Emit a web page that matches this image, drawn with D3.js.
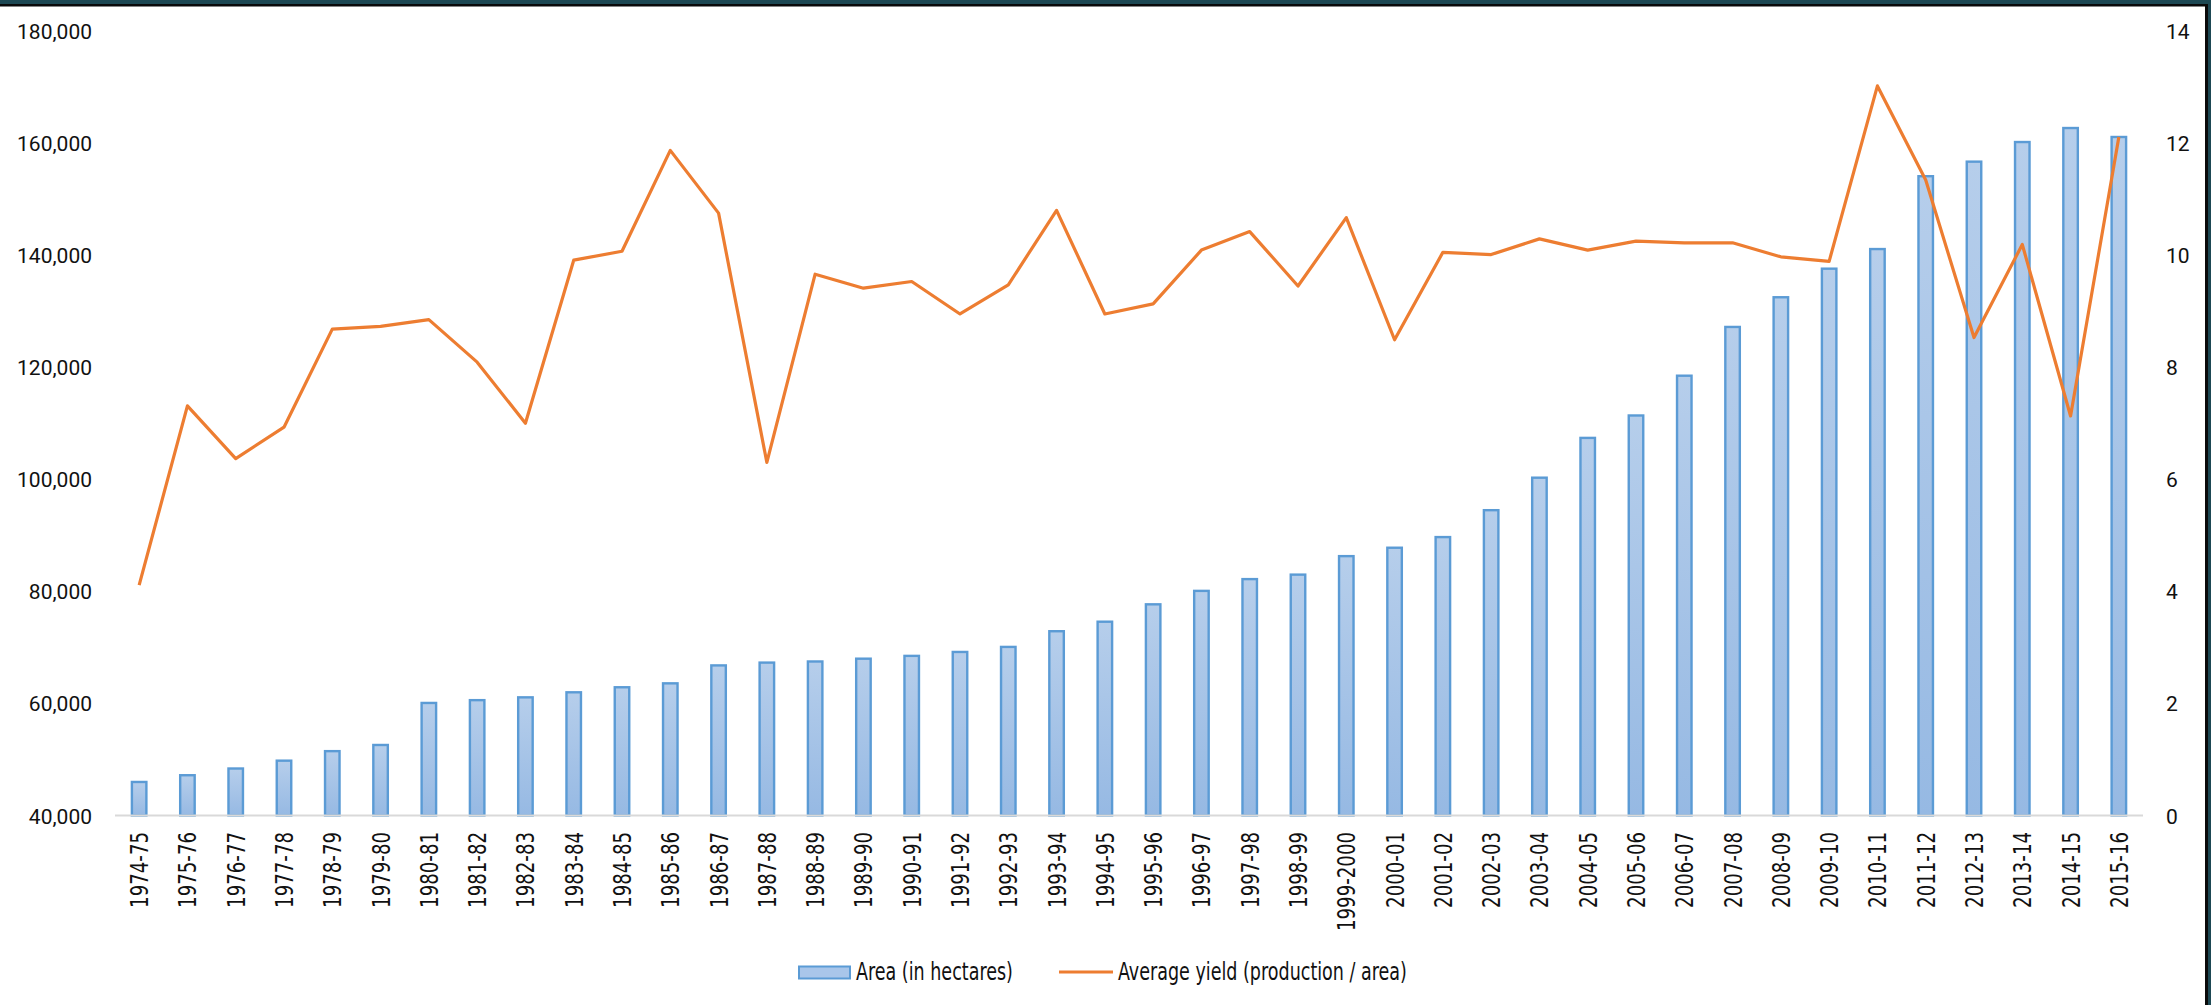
<!DOCTYPE html>
<html>
<head>
<meta charset="utf-8">
<script src="https://cdn.jsdelivr.net/npm/d3@7"></script>
<style>
  html, body { margin: 0; padding: 0; background: #fff; }
  svg { display: block; }
  .cat text, .legend text { font-family: "Liberation Sans Narrow", "Arial Narrow", "DejaVu Sans Condensed", sans-serif; font-size: 25px; fill: #111; }
  .yaxis text { font-family: Roboto, "Open Sans", sans-serif; font-size: 21px; fill: #111; }
</style>
</head>
<body>
<svg id="chart" width="2211" height="1005"></svg>
<script>
// Crop years
const seasons = [
  "1974-75","1975-76","1976-77","1977-78","1978-79","1979-80","1980-81","1981-82",
  "1982-83","1983-84","1984-85","1985-86","1986-87","1987-88","1988-89","1989-90",
  "1990-91","1991-92","1992-93","1993-94","1994-95","1995-96","1996-97","1997-98",
  "1998-99","1999-2000","2000-01","2001-02","2002-03","2003-04","2004-05","2005-06",
  "2006-07","2007-08","2008-09","2009-10","2010-11","2011-12","2012-13","2013-14",
  "2014-15","2015-16"
];

// Area under cultivation (hectares)
const area = [
  46200, 47400, 48600, 50000, 51700, 52800, 60300, 60800,
  61300, 62200, 63100, 63800, 67000, 67500, 67700, 68200,
  68700, 69400, 70300, 73100, 74800, 77900, 80300, 82400,
  83200, 86500, 88000, 89900, 94700, 100500, 107600, 111600,
  118700, 127400, 132700, 137800, 141300, 154300, 156900, 160400,
  162900, 161300
];

// Average yield (production / area)
const yieldAvg = [
  4.11, 7.31, 6.37, 6.93, 8.68, 8.73, 8.85, 8.09,
  7.00, 9.91, 10.07, 11.87, 10.75, 6.30, 9.66, 9.41,
  9.53, 8.95, 9.47, 10.80, 8.95, 9.13, 10.09, 10.42,
  9.45, 10.67, 8.49, 10.05, 10.01, 10.29, 10.09, 10.25,
  10.22, 10.22, 9.97, 9.89, 13.02, 11.34, 8.53, 10.19,
  7.13, 12.11
];

// Axis tick values
const areaTicks = [40000, 60000, 80000, 100000, 120000, 140000, 160000, 180000];
const yieldTicks = [0, 2, 4, 6, 8, 10, 12, 14];

const legendLabels = ["Area (in hectares)", "Average yield (production / area)"];

const svg = d3.select("#chart");
const plot = { left: 115, right: 2143, top: 31, bottom: 815.5 };

const x = d3.scaleBand()
  .domain(seasons)
  .range([plot.left, plot.right])
  .paddingInner(0.65)
  .paddingOuter(0.325);

const yArea = d3.scaleLinear().domain([40000, 180000]).range([plot.bottom, plot.top]);
const yYield = d3.scaleLinear().domain([0, 14]).range([plot.bottom, plot.top]);

// Window frame along the top and right edges
svg.append("rect").attr("x", 0).attr("y", 0).attr("width", 2211).attr("height", 4).attr("fill", "#1d4853");
svg.append("rect").attr("x", 0).attr("y", 4).attr("width", 2208).attr("height", 2.5).attr("fill", "#0a0a0a");
svg.append("rect").attr("x", 2208).attr("y", 0).attr("width", 3).attr("height", 1005).attr("fill", "#1d4853");
svg.append("rect").attr("x", 2205).attr("y", 4).attr("width", 3).attr("height", 1001).attr("fill", "#0a0a0a");

// Bar fill gradient
const defs = svg.append("defs");
const grad = defs.append("linearGradient")
  .attr("id", "barFill").attr("x1", 0).attr("y1", 0).attr("x2", 0).attr("y2", 1);
grad.append("stop").attr("offset", "0%").attr("stop-color", "#b6ceeb");
grad.append("stop").attr("offset", "100%").attr("stop-color", "#96b9e3");

// Bars
const bw = x.bandwidth();
svg.append("g").selectAll("rect")
  .data(seasons)
  .join("rect")
  .attr("x", d => x(d) + 1.2)
  .attr("width", bw - 2.4)
  .attr("y", (d, i) => yArea(area[i]) + 1.2)
  .attr("height", (d, i) => plot.bottom - yArea(area[i]) - 1.2)
  .attr("fill", "url(#barFill)")
  .attr("stroke", "#5b9bd5")
  .attr("stroke-width", 2.4);

// Category axis line
svg.append("line")
  .attr("x1", plot.left).attr("x2", plot.right)
  .attr("y1", plot.bottom).attr("y2", plot.bottom)
  .attr("stroke", "#d9d9d9").attr("stroke-width", 2);

// Yield line
const line = d3.line()
  .x((d, i) => x(seasons[i]) + bw / 2)
  .y(d => yYield(d));
svg.append("path")
  .datum(yieldAvg)
  .attr("d", line)
  .attr("fill", "none")
  .attr("stroke", "#ed7d31")
  .attr("stroke-width", 3.2)
  .attr("stroke-linejoin", "round");

// Left axis
const leftAxis = svg.append("g")
  .attr("class", "yaxis")
  .attr("transform", `translate(${plot.left},0)`)
  .call(d3.axisLeft(yArea).tickValues(areaTicks).tickFormat(d3.format(",")).tickSize(0).tickPadding(23));
leftAxis.select(".domain").remove();
leftAxis.selectAll("text").attr("dy", "0.36em");

// Right axis
const rightAxis = svg.append("g")
  .attr("class", "yaxis")
  .attr("transform", `translate(${plot.right},0)`)
  .call(d3.axisRight(yYield).tickValues(yieldTicks).tickSize(0).tickPadding(23));
rightAxis.select(".domain").remove();
rightAxis.selectAll("text").attr("dy", "0.36em");

// Category labels, rotated and set in a condensed width
const bottomAxis = svg.append("g")
  .attr("class", "cat")
  .attr("transform", `translate(0,${plot.bottom})`)
  .call(d3.axisBottom(x).tickSize(0));
bottomAxis.select(".domain").remove();
const catText = bottomAxis.selectAll("text");
const firstLen = catText.node().getComputedTextLength();
const catSqueeze = Math.min(1, 76 / firstLen);
catText
  .attr("transform", `rotate(-90) scale(${catSqueeze},1)`)
  .attr("x", -16.5 / catSqueeze)
  .attr("y", 0)
  .attr("dy", "0.36em")
  .attr("text-anchor", "end");

// Legend
const legend = svg.append("g").attr("class", "legend");
legend.append("rect")
  .attr("x", 799).attr("y", 966.5).attr("width", 51).attr("height", 12)
  .attr("fill", "#a9c6ea").attr("stroke", "#5b9bd5").attr("stroke-width", 2);
legend.append("line")
  .attr("x1", 1059).attr("x2", 1113).attr("y1", 972).attr("y2", 972)
  .attr("stroke", "#ed7d31").attr("stroke-width", 3.2);
const legText = legend.selectAll("text.item")
  .data(legendLabels)
  .join("text")
  .attr("class", "item")
  .text(d => d);
const legLen = legText.node().getComputedTextLength();
const legSqueeze = Math.min(1, 157 / legLen);
const legX = [856, 1118];
legText.attr("transform", (d, i) => `translate(${legX[i]},980) scale(${legSqueeze},1)`);
</script>
</body>
</html>
